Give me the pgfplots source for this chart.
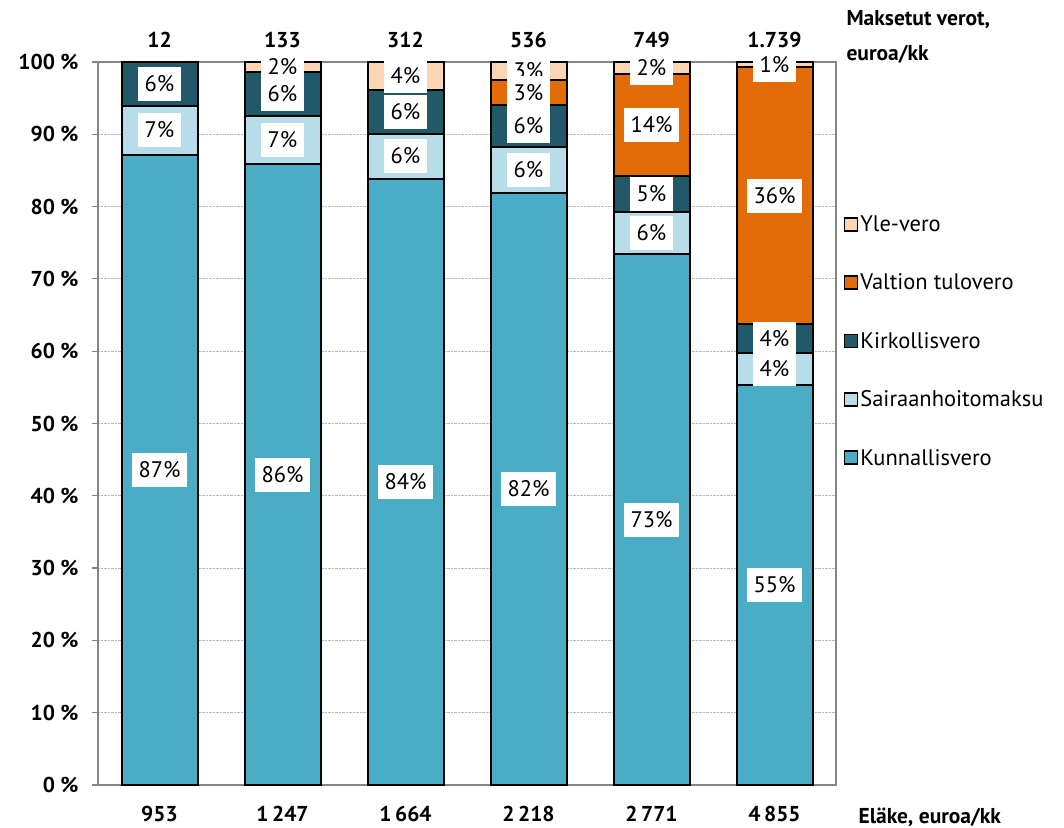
\documentclass[border=0pt]{standalone}
\usepackage{fontspec}
\setmainfont{PT Sans}
\usepackage{pgfplots}
\usepackage{pgfplotstable}
\pgfplotsset{compat=1.18}
\definecolor{cKunn}{HTML}{4BACC6}
\definecolor{cSair}{HTML}{B7DDE8}
\definecolor{cKirk}{HTML}{215968}
\definecolor{cValt}{HTML}{E36C09}
\definecolor{cYle}{HTML}{FCD5B5}
\definecolor{cFrame}{HTML}{868686}
\pgfplotstableread{
x kunn sair kirk valt yle Lkunn Lsair Lkirk Lvalt Lyle
0 87.2  6.75 6.05 0    0   87 7 6 - -
1 85.85 6.65 6.1  0    1.4 86 7 6 - 2
2 83.8  6.3  6.0  0    3.9 84 6 6 - 4
3 81.9  6.4  5.75 3.45 2.5 82 6 6 3 3
4 73.4  5.8  5.1  14.0 1.7 73 6 5 14 2
5 55.3  4.4  4.0  35.6 0.7 55 4 4 36 1
}\datatable
\def\nolab{-}
\newcommand{\regfont}{\fontsize{22.5}{27}\selectfont}
\newcommand{\boldfont}{\bfseries\fontsize{21.5}{26}\selectfont}
\newcommand{\mylab}{\edef\tmp{\pgfplotspointmeta}\ifx\tmp\nolab\else{\setlength{\fboxsep}{0pt}\colorbox{white}{\hspace{6.5pt}\rule[-9.5pt]{0pt}{34pt}\tmp\%\hspace{6.5pt}}}\fi}
\pgfplotsset{
  seglab/.style={
    nodes near coords={\mylab},
    every node near coord/.append style={anchor=center, inner sep=0pt, font=\regfont, text=black},
  }
}
\newcommand{\toplab}[2]{\node[anchor=base, font=\boldfont, yshift=14pt] at (axis cs:#1,100) {#2};}
\begin{document}
\begin{tikzpicture}
\useasboundingbox (0,0) rectangle (1064pt,827pt);
\begin{axis}[
  at={(98pt,42pt)}, anchor=south west,
  scale only axis, width=738pt, height=723pt,
  ybar stacked, bar width=76pt,
  xmin=-0.5, xmax=5.5, ymin=0, ymax=100,
  clip=false,
  xtick pos=bottom, ytick pos=left,
  xtick={0,...,5},
  xticklabels={953,1\,247,1\,664,2\,218,2\,771,4\,855},
  major x tick style={draw=none},
  extra x ticks={-0.5,0.5,1.5,2.5,3.5,4.5,5.5},
  extra x tick labels={},
  extra x tick style={major tick length=9pt, tick align=outside, tick style={cFrame, line width=1.2pt}, xmajorgrids=false},
  xticklabel style={font=\boldfont, yshift=-12pt},
  ytick={0,10,...,100},
  yticklabel={\pgfmathprintnumber{\tick}~\%},
  yticklabel style={font=\boldfont, xshift=-10pt},
  /pgf/number format/assume math mode=true,
  major y tick style={cFrame, line width=1.2pt},
  major tick length=6pt, tick align=outside,
  ymajorgrids, grid style={densely dotted, gray!55, line width=0.8pt},
  axis line style={cFrame, line width=1.6pt},
  every axis plot/.append style={draw=black, line width=2pt},
  reverse legend,
  legend style={draw=none, fill=none, at={(1.01,0.614)}, anchor=west,
    font=\regfont, row sep=37pt, inner sep=0pt,
    cells={anchor=west}},
  legend image code/.code={\draw[#1, draw=black, line width=1.8pt] (0pt,-6.5pt) rectangle (13pt,6.5pt);},
  point meta=explicit symbolic,
]
\addplot[fill=cKunn, seglab] table[x=x, y=kunn, meta=Lkunn] {\datatable};
\addplot[fill=cSair, seglab] table[x=x, y=sair, meta=Lsair] {\datatable};
\addplot[fill=cKirk, seglab] table[x=x, y=kirk, meta=Lkirk] {\datatable};
\addplot[fill=cValt, seglab] table[x=x, y=valt, meta=Lvalt] {\datatable};
\addplot[fill=cYle, seglab] table[x=x, y=yle, meta=Lyle] {\datatable};
\legend{Kunnallisvero,Sairaanhoitomaksu,Kirkollisvero,Valtion tulovero,Yle-vero}
\toplab{0}{12}
\toplab{1}{133}
\toplab{2}{312}
\toplab{3}{536}
\toplab{4}{749}
\toplab{5}{1.739}
\end{axis}
\node[anchor=base west, font=\boldfont] at (843pt,801pt) {Maksetut verot,};
\node[anchor=base west, font=\boldfont] at (843pt,766pt) {euroa/kk};
\node[anchor=base west, font=\boldfont] at (855pt,4pt) {Eläke, euroa/kk};
\end{tikzpicture}
\end{document}
